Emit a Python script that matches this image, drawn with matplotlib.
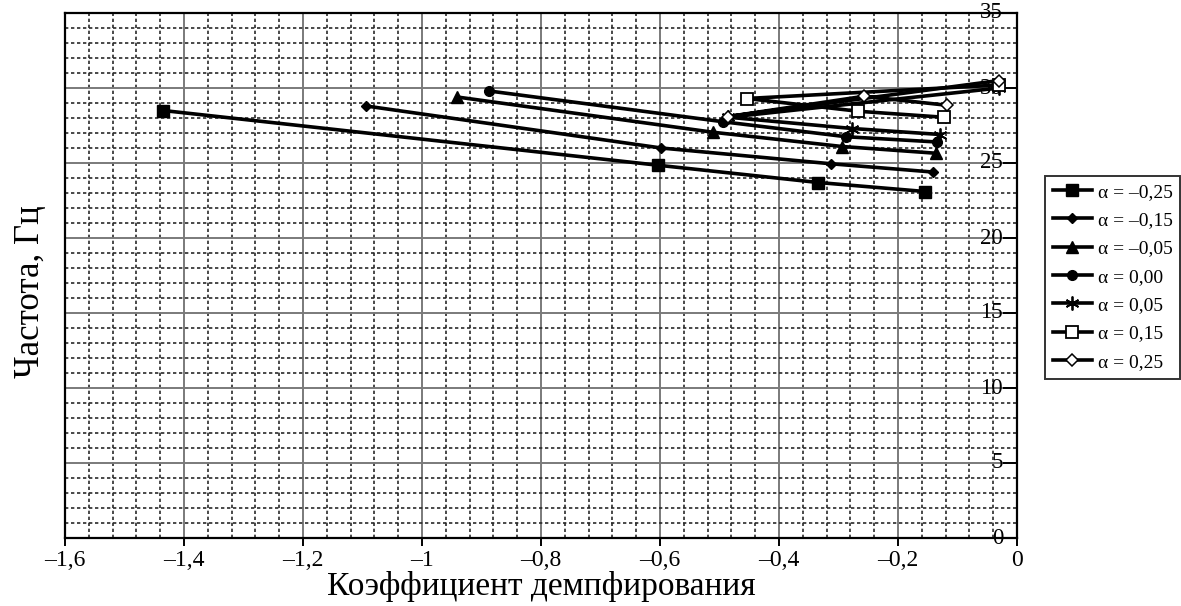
import matplotlib
matplotlib.use("Agg")
import matplotlib.pyplot as plt
from matplotlib.ticker import MultipleLocator, FixedLocator

# Damping coefficient (x) and frequency, Hz (y) for each alpha
alpha_labels = ["α = –0,25", "α = –0,15", "α = –0,05", "α = 0,00",
                "α = 0,05", "α = 0,15", "α = 0,25"]

x_m025 = [-1.435, -0.603, -0.334, -0.155]
y_m025 = [28.5, 24.85, 23.7, 23.1]

x_m015 = [-1.094, -0.598, -0.313, -0.142]
y_m015 = [28.8, 26.0, 24.95, 24.4]

x_m005 = [-0.941, -0.511, -0.294, -0.136]
y_m005 = [29.4, 27.05, 26.1, 25.65]

x_000 = [-0.887, -0.494, -0.287, -0.134]
y_000 = [29.8, 27.75, 26.75, 26.4]

x_005 = [-0.03, -0.485, -0.277, -0.129]
y_005 = [30.0, 28.05, 27.3, 26.9]

x_015 = [-0.03, -0.454, -0.267, -0.123]
y_015 = [30.2, 29.3, 28.45, 28.05]

x_025 = [-0.03, -0.485, -0.257, -0.118]
y_025 = [30.5, 28.1, 29.45, 28.85]

x_ticks = [-1.6, -1.4, -1.2, -1.0, -0.8, -0.6, -0.4, -0.2, 0.0]
x_tick_labels = ["–1,6", "–1,4", "–1,2", "–1", "–0,8", "–0,6", "–0,4", "–0,2", "0"]
y_ticks = [0, 5, 10, 15, 20, 25, 30, 35]
y_tick_labels = ["0", "5", "10", "15", "20", "25", "30", "35"]

plt.rcParams["font.family"] = ["Liberation Serif", "DejaVu Serif"]

fig = plt.figure(figsize=(11.81, 6.06), dpi=100)
ax = fig.add_axes([65 / 1181, 68 / 606, 952 / 1181, 525 / 606])

# grid: solid gray major, dashed black minor
ax.set_xlim(-1.6, 0)
ax.set_ylim(0, 35)
ax.xaxis.set_major_locator(FixedLocator(x_ticks))
ax.yaxis.set_major_locator(FixedLocator(y_ticks))
ax.xaxis.set_minor_locator(MultipleLocator(0.04))
ax.yaxis.set_minor_locator(MultipleLocator(1))
ax.grid(which="minor", color="#2a2a2a", linestyle=(0, (2, 1.6)), linewidth=1.2)
ax.grid(which="major", color="#7a7a7a", linestyle="-", linewidth=1.4)
ax.set_axisbelow(True)

series = [
    (x_m025, y_m025, dict(marker="s", markersize=8, markerfacecolor="black")),
    (x_m015, y_m015, dict(marker="D", markersize=5.5, markerfacecolor="black")),
    (x_m005, y_m005, dict(marker="^", markersize=8, markerfacecolor="black")),
    (x_000, y_000, dict(marker="o", markersize=7, markerfacecolor="black")),
    (x_005, y_005, dict(marker=(6, 2, 0), markersize=10, markeredgewidth=1.3)),
    (x_015, y_015, dict(marker="s", markersize=8, markerfacecolor="white",
                        markeredgewidth=1.3)),
    (x_025, y_025, dict(marker="D", markersize=6, markerfacecolor="white",
                        markeredgewidth=1.1)),
]
for (xs, ys, style), lab in zip(series, alpha_labels):
    ax.plot(xs, ys, color="black", linewidth=2.6, markeredgecolor="black",
            label=lab, zorder=3, **style)

# axis ticks and labels
ax.set_xticks(x_ticks)
ax.set_xticklabels(x_tick_labels, fontsize=17)
ax.tick_params(axis="x", which="major", direction="out", length=6, width=1.4,
               top=False, bottom=True, pad=3)
ax.tick_params(axis="x", which="minor", length=0)

ax.yaxis.set_ticks_position("right")
ax.set_yticks(y_ticks)
ax.set_yticklabels(y_tick_labels, fontsize=16.5)
ax.tick_params(axis="y", which="major", direction="in", length=10, width=1.4,
               right=True, left=False, labelright=True, labelleft=False, pad=-10)
ax.tick_params(axis="y", which="minor", length=0)
for t in ax.get_yticklabels():
    t.set_horizontalalignment("right")
    t.set_verticalalignment("center")

for s in ax.spines.values():
    s.set_linewidth(1.6)
    s.set_color("black")

ax.set_xlabel("Коэффициент демпфирования", fontsize=24, labelpad=0)
fig.text(30 / 1181, 1 - 292 / 606, "Частота, Гц", rotation=90, fontsize=25,
         ha="center", va="center")

leg = ax.legend(loc="center left", bbox_to_anchor=(1045 / 1181, 1 - 277 / 606),
                bbox_transform=fig.transFigure, fontsize=14, frameon=True,
                fancybox=False, edgecolor="black", handlelength=2.0,
                handletextpad=0.3, labelspacing=0.55, borderpad=0.4,
                borderaxespad=0)
leg.get_frame().set_linewidth(1.4)
for h in leg.get_lines():
    h.set_linewidth(2.6)

fig.savefig("out.png", dpi=100)
